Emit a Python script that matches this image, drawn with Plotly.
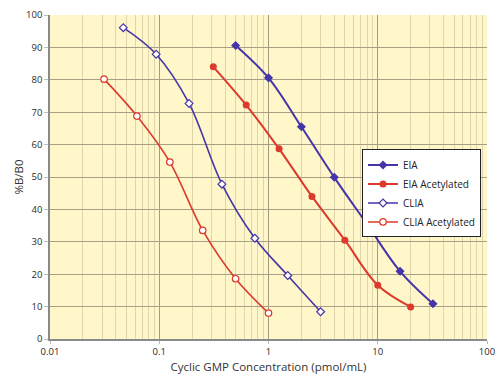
import plotly.graph_objects as go

eia_x = [0.5, 1, 2, 4, 8, 16, 32]
eia_y = [90.6, 80.6, 65.5, 49.9, 35.4, 20.9, 10.9]
eia_ac_x = [0.3125, 0.625, 1.25, 2.5, 5, 10, 20]
eia_ac_y = [84.0, 72.2, 58.7, 44.0, 30.5, 16.6, 9.9]
clia_x = [0.046875, 0.09375, 0.1875, 0.375, 0.75, 1.5, 3]
clia_y = [96.1, 87.9, 72.7, 47.8, 31.1, 19.6, 8.4]
clia_ac_x = [0.03125, 0.0625, 0.125, 0.25, 0.5, 1.0]
clia_ac_y = [80.2, 68.8, 54.6, 33.5, 18.6, 8.0]

BLUE = "#4535A8"
RED = "#DC3A2C"

fig = go.Figure()
fig.add_trace(go.Scatter(x=eia_x, y=eia_y, name="EIA", mode="lines+markers",
                         line=dict(color=BLUE, width=2, shape="spline"),
                         marker=dict(symbol="diamond", size=7, color=BLUE)))
fig.add_trace(go.Scatter(x=eia_ac_x, y=eia_ac_y, name="EIA Acetylated", mode="lines+markers",
                         line=dict(color=RED, width=2, shape="spline"),
                         marker=dict(symbol="circle", size=7, color=RED)))
fig.add_trace(go.Scatter(x=clia_x, y=clia_y, name="CLIA", mode="lines+markers",
                         line=dict(color=BLUE, width=1.6, shape="spline"),
                         marker=dict(symbol="diamond", size=6, color="white",
                                     line=dict(color=BLUE, width=1.2))))
fig.add_trace(go.Scatter(x=clia_ac_x, y=clia_ac_y, name="CLIA Acetylated", mode="lines+markers",
                         line=dict(color=RED, width=1.6, shape="spline"),
                         marker=dict(symbol="circle", size=6.5, color="white",
                                     line=dict(color=RED, width=1.2))))

fig.update_layout(
    width=501, height=387,
    margin=dict(l=50, r=14, t=15, b=48, autoexpand=False),
    paper_bgcolor="white",
    plot_bgcolor="#FFF6C9",
    font=dict(family="Open Sans", size=10, color="#2A2A2A"),
    showlegend=True,
    legend=dict(x=0.714, y=0.585, xanchor="left", yanchor="top",
                bgcolor="white", bordercolor="#222222", borderwidth=1,
                font=dict(size=10, color="#222222"), tracegroupgap=0,
                itemwidth=30),
)
fig.update_xaxes(type="log", range=[-2, 2], automargin=False,
                 tickvals=[0.01, 0.1, 1, 10, 100], ticktext=["0.01", "0.1", "1", "10", "100"],
                 showgrid=True, gridcolor="#A39B80", gridwidth=1,
                 minor=dict(showgrid=True, gridcolor="rgba(170,160,130,0.38)", gridwidth=1,
                            dtick="D1"),
                 showline=True, linecolor="#8A8A8A", linewidth=1.5, mirror=False,
                 ticks="outside", ticklen=3, tickcolor="#BBBBBB",
                 title=dict(text="Cyclic GMP Concentration (pmol/mL)", font=dict(size=11.5, color="#333333"),
                            standoff=6),
                 tickfont=dict(size=9.5), zeroline=False)
fig.update_yaxes(range=[0, 100], dtick=10, automargin=False,
                 showgrid=True, gridcolor="#A8A085", gridwidth=1,
                 showline=True, linecolor="#8A8A8A", linewidth=1.5,
                 ticks="outside", ticklen=4, tickcolor="#BBBBBB",
                 title=dict(text="%B/B0", font=dict(size=11.5, color="#333333"), standoff=0),
                 tickfont=dict(size=9.5), zeroline=False)

fig.write_html("out.html", config={"displayModeBar": False})

with open("out.html", "r", encoding="utf-8") as f:
    html = f.read()
html = html.replace("<head>", "<head><style>html,body{margin:0;padding:0;overflow:hidden;}</style>", 1)
with open("out.html", "w", encoding="utf-8") as f:
    f.write(html)
